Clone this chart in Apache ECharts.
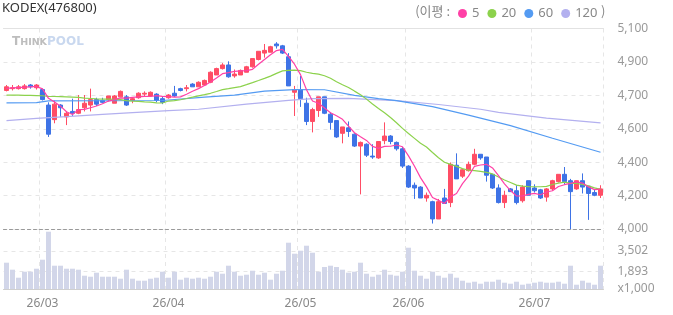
<!DOCTYPE html>
<html>
<head>
<meta charset="utf-8">
<script src="https://cdn.jsdelivr.net/npm/echarts@6/dist/echarts.min.js"></script>
<style>
  html, body { margin: 0; padding: 0; background: #fff; }
  #chart { width: 673px; height: 315px; }
</style>
</head>
<body>
<div id="chart"></div>
<script>
// trading days (2026)
const febDays = [20, 23, 24, 25, 26, 27];
const marDays = [3, 4, 5, 6, 9, 10, 11, 12, 13, 16, 17, 18, 19, 20, 23, 24, 25, 26, 27, 30, 31];
const aprDays = [1, 2, 3, 6, 7, 8, 9, 10, 13, 14, 15, 16, 17, 20, 21, 22, 23, 24, 27, 28, 29, 30];
const mayDays = [4, 6, 7, 8, 11, 12, 13, 14, 15, 18, 19, 20, 21, 22, 26, 27, 28, 29];
const junDays = [1, 2, 4, 5, 8, 9, 10, 11, 12, 15, 16, 17, 18, 19, 22, 23, 24, 25, 26, 29, 30];
const julDays = [1, 2, 3, 6, 7, 8, 9, 10, 13, 14, 15, 16];

const openPrices = [
  4760, 4770, 4770, 4770, 4790, 4775, 4765, 4680, 4600, 4680,
  4615, 4645, 4635, 4665, 4680, 4710, 4705, 4710, 4690, 4725,
  4725, 4705, 4720, 4740, 4730, 4740, 4715, 4720, 4745, 4770,
  4770, 4795, 4780, 4790, 4805, 4845, 4880, 4900, 4840, 4845,
  4860, 4890, 4930, 4965, 4970, 5015, 5005, 4945, 4750, 4765,
  4690, 4590, 4650, 4725, 4630, 4595, 4525, 4555, 4520, 4455,
  4465, 4400, 4390, 4485, 4510, 4475, 4440, 4345, 4240, 4230,
  4170, 4150, 4055, 4170, 4145, 4350, 4290, 4320, 4355, 4410,
  4395, 4300, 4225, 4145, 4220, 4210, 4155, 4265, 4225, 4215,
  4175, 4220, 4260, 4300, 4265, 4220, 4265, 4235, 4200, 4185
];
const closePrices = [
  4780, 4775, 4780, 4785, 4780, 4790, 4710, 4520, 4685, 4665,
  4635, 4635, 4655, 4690, 4710, 4685, 4695, 4730, 4730, 4755,
  4680, 4715, 4745, 4745, 4750, 4705, 4695, 4735, 4730, 4760,
  4775, 4780, 4805, 4815, 4860, 4880, 4900, 4835, 4850, 4870,
  4890, 4935, 4975, 4980, 5000, 5005, 4965, 4785, 4765, 4715,
  4590, 4655, 4725, 4635, 4585, 4505, 4560, 4535, 4455, 4475,
  4405, 4395, 4480, 4510, 4480, 4440, 4345, 4230, 4225, 4170,
  4185, 4055, 4150, 4140, 4355, 4275, 4325, 4355, 4410, 4390,
  4295, 4225, 4145, 4185, 4205, 4145, 4230, 4185, 4210, 4170,
  4220, 4265, 4300, 4260, 4205, 4265, 4230, 4195, 4185, 4220
];
const lowPrices = [
  4755, 4760, 4765, 4765, 4770, 4765, 4705, 4505, 4580, 4615,
  4570, 4620, 4630, 4645, 4645, 4675, 4690, 4700, 4690, 4725,
  4675, 4690, 4715, 4725, 4725, 4695, 4685, 4715, 4725, 4755,
  4755, 4780, 4780, 4785, 4800, 4845, 4875, 4830, 4830, 4845,
  4860, 4885, 4925, 4940, 4970, 4990, 4960, 4785, 4620, 4670,
  4570, 4530, 4615, 4630, 4545, 4500, 4470, 4505, 4450, 4190,
  4395, 4385, 4385, 4465, 4465, 4430, 4335, 4225, 4165, 4170,
  4150, 4030, 4055, 4140, 4120, 4275, 4280, 4315, 4350, 4380,
  4260, 4220, 4140, 4115, 4205, 4135, 4145, 4185, 4200, 4165,
  4150, 4210, 4255, 4245, 4000, 4215, 4195, 4050, 4180, 4170
];
const highPrices = [
  4790, 4790, 4790, 4795, 4795, 4795, 4770, 4695, 4705, 4685,
  4645, 4715, 4735, 4735, 4770, 4720, 4720, 4730, 4735, 4760,
  4735, 4720, 4750, 4755, 4755, 4745, 4725, 4740, 4785, 4775,
  4790, 4800, 4810, 4820, 4865, 4885, 4910, 4920, 4875, 4875,
  4895, 4935, 4975, 5015, 5005, 5025, 5010, 4965, 4785, 4840,
  4720, 4665, 4725, 4725, 4640, 4595, 4560, 4590, 4525, 4480,
  4470, 4465, 4480, 4585, 4515, 4480, 4450, 4350, 4255, 4235,
  4200, 4155, 4165, 4220, 4365, 4415, 4330, 4370, 4440, 4410,
  4395, 4300, 4245, 4210, 4225, 4240, 4240, 4265, 4245, 4220,
  4225, 4270, 4300, 4340, 4275, 4265, 4305, 4235, 4215, 4240
];
// volume, x1,000
const volumes = [
  2593, 2049, 1427, 1893, 1893, 2126, 2826, 5001, 2359, 2359,
  2126, 2126, 2049, 1582, 1505, 1816, 1505, 1505, 1505, 1349,
  2049, 1349, 1194, 1194, 1349, 1427, 1893, 1427, 1893, 1272,
  1427, 1349, 1427, 1349, 1505, 1893, 1738, 2359, 1893, 1582,
  1660, 1971, 1660, 1816, 1272, 1738, 1971, 4147, 3292, 3525,
  3913, 3369, 1893, 2258, 2359, 2258, 2049, 1816, 1893, 2593,
  1738, 1505, 1660, 2049, 1660, 1582, 1893, 3758, 1971, 1582,
  1349, 1893, 1582, 1427, 1738, 1427, 1194, 1039, 1116, 961,
  1116, 1116, 1272, 1039, 961, 1116, 883, 961, 1039, 1116,
  1039, 1039, 1116, 961, 2359, 883, 1194, 1039, 883, 2359
];

// moving averages: leading values (need earlier closes)
const ma5Head = [4772, 4774, 4776, 4778];
const ma20Head = [4735, 4734, 4734, 4733, 4733, 4732, 4731, 4728, 4727, 4726,
                  4725, 4724, 4722, 4718, 4716, 4714, 4713, 4712, 4711];
const ma60Points = [[0, 4692], [5, 4693], [7, 4703], [26, 4705], [33, 4723], [38, 4734],
                    [43, 4756], [48, 4765], [53, 4764], [58, 4733], [62, 4715], [65, 4704],
                    [71, 4671], [77, 4625], [84, 4567], [91, 4498], [99, 4421]];
const ma120Points = [[0, 4595], [5, 4607], [10, 4616], [16, 4629], [21, 4638], [27, 4649],
                     [32, 4657], [40, 4685], [47, 4706], [51, 4715], [57, 4717], [65, 4704],
                     [72, 4683], [79, 4657], [82, 4640], [90, 4608], [99, 4582]];

const priceTicks = [4000, 4183.33, 4366.67, 4550, 4733.33, 4916.67, 5100];
const volTicks = [549, 1893, 3502];
const volMax = 5134;

const upColor = '#ff4d65';
const downColor = '#3e73e6';
const maColors = { '5': '#ff40a6', '20': '#8cd24c', '60': '#549bf2', '120': '#b3b0ef' };

const monthList = [['02', febDays], ['03', marDays], ['04', aprDays], ['05', mayDays], ['06', junDays], ['07', julDays]];
const dates = [];
monthList.forEach(([m, days]) => {
  days.forEach(d => dates.push('2026-' + m + '-' + String(d).padStart(2, '0')));
});
const isMonthStart = (i) => i > 0 && dates[i].slice(5, 7) !== dates[i - 1].slice(5, 7);

function movingAvg(n, head) {
  return closePrices.map((c, i) => {
    if (i < n - 1) return head[i];
    let s = 0;
    for (let k = i - n + 1; k <= i; k++) s += closePrices[k];
    return +(s / n).toFixed(1);
  });
}

const candleData = openPrices.map((o, i) => [o, closePrices[i], lowPrices[i], highPrices[i]]);

const chart = echarts.init(document.getElementById('chart'));
const gridDash = { color: '#e6e6e6', type: [4, 4], width: 1 };

const option = {
  animation: false,
  textStyle: { fontFamily: '"Noto Sans", "Noto Sans CJK KR", sans-serif' },
  title: {
    text: 'KODEX(476800)',
    left: 2, top: 2, padding: 0,
    textStyle: { fontSize: 13, fontWeight: 'normal', color: '#333' }
  },
  legend: {
    data: ['5', '20', '60', '120'],
    left: 458, top: 7, padding: 0,
    icon: 'circle', itemWidth: 9, itemHeight: 9, itemGap: 8,
    selectedMode: false,
    textStyle: { fontSize: 13, color: '#888' }
  },
  graphic: [
    {
      type: 'text', right: 223, top: 5,
      style: { text: '(이평 :', font: '13px "Noto Sans CJK KR"', fill: '#888' }
    },
    {
      type: 'text', left: 601, top: 5,
      style: { text: ')', font: '13px "Noto Sans CJK KR"', fill: '#888' }
    },
    {
      type: 'text', left: 12, top: 36,
      style: {
        text: '{t|T}{h|HINK}{p|POOL}',
        rich: {
          t: { fontSize: 12, fontWeight: 'bold', fill: '#bdbdbd', fontFamily: 'DejaVu Sans', verticalAlign: 'bottom' },
          h: { fontSize: 9.5, fontWeight: 'bold', fill: '#bdbdbd', fontFamily: 'DejaVu Sans', verticalAlign: 'bottom' },
          p: { fontSize: 12, fontWeight: 'bold', fill: '#c9d8ef', fontFamily: 'DejaVu Sans', verticalAlign: 'bottom' }
        }
      }
    }
  ],
  grid: [
    { left: 3.5, right: 69.5, top: 28.5, height: 200.5 },
    { left: 3.5, right: 69.5, top: 230, height: 59 }
  ],
  xAxis: [
    {
      type: 'category', gridIndex: 0, data: dates,
      axisLine: { onZero: false, lineStyle: { color: '#999', type: [3, 3] } },
      axisTick: { show: false }, axisLabel: { show: false },
      splitLine: { show: true, interval: isMonthStart, lineStyle: gridDash }
    },
    {
      type: 'category', gridIndex: 1, data: dates,
      axisLine: { onZero: false, lineStyle: { color: '#cfcfcf' } },
      axisTick: { show: false },
      axisLabel: {
        interval: isMonthStart, color: '#888', fontSize: 12, margin: 9,
        formatter: v => v.slice(2, 4) + '/' + v.slice(5, 7)
      },
      splitLine: { show: true, interval: isMonthStart, lineStyle: gridDash }
    },
    {
      type: 'category', gridIndex: 0, data: dates, position: 'top',
      axisLine: { onZero: false, lineStyle: { color: '#e2e2e2' } },
      axisTick: { show: false }, axisLabel: { show: false }
    }
  ],
  yAxis: [
    {
      type: 'value', gridIndex: 0, position: 'right',
      min: priceTicks[0], max: priceTicks[priceTicks.length - 1],
      axisLine: { show: false },
      axisTick: { show: false, customValues: priceTicks },
      axisLabel: {
        customValues: priceTicks, color: '#999', fontSize: 12, margin: 14,
        formatter: v => (Math.round(v / 100) * 100).toLocaleString('en-US')
      },
      splitLine: { lineStyle: gridDash }
    },
    {
      type: 'value', gridIndex: 1, position: 'right',
      min: volTicks[0], max: volMax,
      axisLine: { show: false },
      axisTick: { show: false, customValues: volTicks },
      axisLabel: {
        customValues: volTicks, color: '#999', fontSize: 12, margin: 14,
        formatter: v => v === volTicks[0] ? 'x1,000' : v.toLocaleString('en-US')
      },
      splitLine: { lineStyle: gridDash }
    }
  ],
  series: [
    {
      type: 'candlestick', name: 'KODEX',
      xAxisIndex: 0, yAxisIndex: 0,
      data: candleData, barWidth: 5,
      itemStyle: { color: upColor, color0: downColor, borderColor: upColor, borderColor0: downColor, borderWidth: 1 }
    },
    {
      type: 'bar', name: 'volume',
      xAxisIndex: 1, yAxisIndex: 1,
      data: volumes, barWidth: 5,
      itemStyle: { color: '#d2d6e9' }
    },
    {
      type: 'line', name: '120', xAxisIndex: 0, yAxisIndex: 0,
      data: ma120Points, showSymbol: false, symbol: 'none',
      itemStyle: { color: maColors['120'] }, lineStyle: { color: maColors['120'], width: 1.2 }
    },
    {
      type: 'line', name: '60', xAxisIndex: 0, yAxisIndex: 0,
      data: ma60Points, showSymbol: false, symbol: 'none',
      itemStyle: { color: maColors['60'] }, lineStyle: { color: maColors['60'], width: 1.2 }
    },
    {
      type: 'line', name: '20', xAxisIndex: 0, yAxisIndex: 0,
      data: movingAvg(20, ma20Head), showSymbol: false, symbol: 'none',
      itemStyle: { color: maColors['20'] }, lineStyle: { color: maColors['20'], width: 1.2 }
    },
    {
      type: 'line', name: '5', xAxisIndex: 0, yAxisIndex: 0,
      data: movingAvg(5, ma5Head), showSymbol: false, symbol: 'none',
      itemStyle: { color: maColors['5'] }, lineStyle: { color: maColors['5'], width: 1.2 }
    }
  ]
};
chart.setOption(option);
</script>
</body>
</html>
